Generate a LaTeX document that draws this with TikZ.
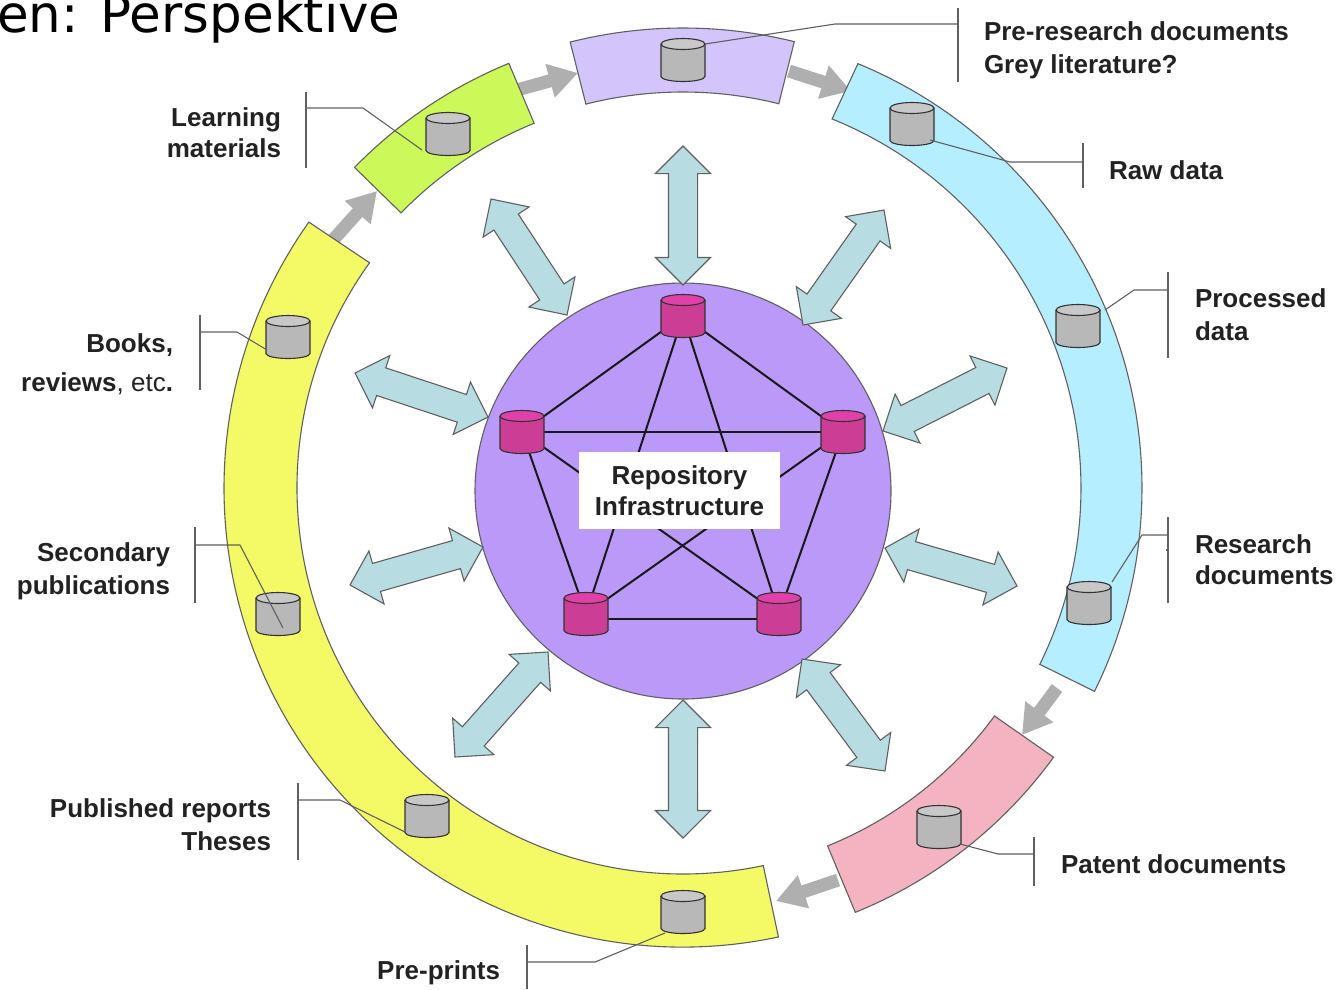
\documentclass[tikz,border=0pt]{standalone}
\usepackage{fontspec}
\setmainfont{Liberation Sans}
\newfontfamily\titlefont{DejaVu Sans}
\usetikzlibrary{shapes.geometric,shapes.arrows,arrows.meta,calc}
\definecolor{segpurple}{HTML}{D4C4FC}
\definecolor{segblue}{HTML}{B5EEFF}
\definecolor{segpink}{HTML}{F3B3C0}
\definecolor{segyellow}{HTML}{F3FA66}
\definecolor{seggreen}{HTML}{CCF85A}
\definecolor{hubpurple}{HTML}{BA99F9}
\definecolor{magbody}{HTML}{CC3D96}
\definecolor{magtop}{HTML}{E040A8}
\definecolor{greybody}{HTML}{B8B8B8}
\definecolor{greytop}{HTML}{C8C8C8}
\definecolor{arrowfill}{HTML}{B7DCE2}
\definecolor{edgegrey}{HTML}{606060}
\definecolor{flowgrey}{HTML}{AFAFAF}
\definecolor{labelink}{HTML}{222222}
\pgfdeclarelayer{bg}\pgfdeclarelayer{mid}
\pgfsetlayers{bg,mid,main}
\tikzset{
  seg/.style={draw=edgegrey,line width=1.1pt},
  cylline/.style={draw=black!80,line width=1.1pt},
  cylbox/.style={shape=rectangle,minimum width=44pt,minimum height=43pt,inner sep=0pt,outer sep=0pt},
  blockarrow/.style={shape=double arrow,draw=edgegrey,fill=arrowfill,line width=1.1pt,inner sep=0pt,outer sep=0pt,
    minimum width=54pt,text height=28pt,text depth=0pt,text width=0pt,double arrow head extend=13pt,double arrow tip angle=90},
  flow/.style={draw=flowgrey,line width=13pt,-{Triangle[length=29pt,width=33pt]}},
  net/.style={draw=black!90,line width=2pt},
  leaderline/.style={draw=edgegrey,line width=1.1pt},
  lbl/.style={font=\bfseries\fontsize{26}{33}\selectfont,text=labelink,inner sep=0pt,outer sep=0pt},
}
\newcommand{\blockarr}[5]{%
  \pgfmathsetmacro{\arrlen}{veclen(#4-#2,#5-#3)}%
  \pgfmathsetmacro{\arrang}{atan2(#3-#5,#4-#2)}%
  \node[blockarrow,minimum height=\arrlen pt,rotate=\arrang] (#1) at ({(#2+#4)/2},{-(#3+#5)/2}) {};}
\newcommand{\cylnode}[5]{% name, x, y, body, top
  \node[cylbox] (#1) at (#2,-#3) {};
  \fill[#4] ($(#1.north west)+(0,-5.5)$) -- ($(#1.south west)+(0,5)$) arc[start angle=180,end angle=360,x radius=22,y radius=5] -- ($(#1.north east)+(0,-5.5)$) arc[start angle=0,end angle=180,x radius=22,y radius=5.5] -- cycle;
  \filldraw[cylline,fill=#5] ($(#1.north)+(0,-5.5)$) ellipse[x radius=22,y radius=5.5];
  \draw[cylline] ($(#1.north west)+(0,-5.5)$) -- ($(#1.south west)+(0,5)$) arc[start angle=180,end angle=360,x radius=22,y radius=5] -- ($(#1.north east)+(0,-5.5)$);}
\newcommand{\leadr}[8]{% name, sx,sy, bx,by, barx, bartop, barbot
  \coordinate (#1s) at (#2,-#3);
  \coordinate (#1b) at (#4,-#5);
  \coordinate (#1e) at (#6,-#5);
  \coordinate (#1t) at (#6,-#7);
  \coordinate (#1u) at (#6,-#8);
  \draw[leaderline] (#1s) -- (#1b) -- (#1e);
  \draw[leaderline] (#1t) -- (#1u);}
\begin{document}
\begin{tikzpicture}[x=1pt,y=1pt]
\useasboundingbox (0,0) rectangle (1337,-989);
\begin{pgfonlayer}{bg}
  \fill[white] (0,0) rectangle (1337,-989);
  % flow arrows between the segments
  \coordinate (f1a) at (517,-90); \coordinate (f1b) at (578,-73);
  \coordinate (f2a) at (789,-71); \coordinate (f2b) at (851,-91);
  \coordinate (f3a) at (1057,-688); \coordinate (f3b) at (1022,-735);
  \coordinate (f4a) at (838,-880); \coordinate (f4b) at (776,-901);
  \coordinate (f5a) at (333,-240); \coordinate (f5b) at (377,-191);
  \draw[flow] (f1a) -- (f1b);
  \draw[flow] (f2a) -- (f2b);
  \draw[flow] (f3a) -- (f3b);
  \draw[flow] (f4a) -- (f4b);
  \draw[flow] (f5a) -- (f5b);
  % ring segments
  \path[seg,fill=segpurple] ([shift={(683,-488)}]104.2:460) arc[start angle=104.2,end angle=76,radius=460]
     -- ([shift={(683,-488)}]76:396) arc[start angle=76,end angle=104.2,radius=396] -- cycle;
  \path[seg,fill=segblue] ([shift={(683,-488)}]67.6:459) arc[start angle=67.6,end angle=-26.3,radius=459]
     -- ([shift={(683,-488)}]-26.3:398) arc[start angle=-26.3,end angle=68,radius=398] -- cycle;
  \path[seg,fill=segpink] ([shift={(683,-488)}]-36:458) arc[start angle=-36,end angle=-67.9,radius=458]
     -- ([shift={(683,-488)}]-68:386) arc[start angle=-68,end angle=-36.2,radius=386] -- cycle;
  \path[seg,fill=segyellow] ([shift={(683,-488)}]-78:459) arc[start angle=-78,end angle=-215.4,radius=459]
     -- ([shift={(683,-488)}]-215.7:386) arc[start angle=-215.7,end angle=-78,radius=386] -- cycle;
  \path[seg,fill=seggreen] ([shift={(683,-488)}]135.7:459) arc[start angle=135.7,end angle=112.3,radius=459]
     -- ([shift={(683,-488)}]112.2:394) arc[start angle=112.2,end angle=135.7,radius=394] -- cycle;
  \node[circle,draw=edgegrey,fill=hubpurple,line width=1.1pt,minimum size=416pt,inner sep=0pt,outer sep=0pt] (hub) at (683,-491) {};
\end{pgfonlayer}
% double block arrows
\blockarr{a1}{683}{146}{683}{285}
\blockarr{a2}{683}{700}{683}{838}
\blockarr{a3}{884}{210}{803}{325}
\blockarr{a4}{1007}{368}{883}{431}
\blockarr{a5}{885}{548}{1017}{586}
\blockarr{a6}{802}{659}{885}{771}
\blockarr{a7}{548}{652}{455}{757}
\blockarr{a8}{483}{547}{350}{585}
\blockarr{a9}{488}{417}{355}{373}
\blockarr{a10}{567}{315}{491}{199}
% repository network
\cylnode{rt}{683}{316}{magbody}{magtop}
\cylnode{rl}{522}{432}{magbody}{magtop}
\cylnode{rr}{843}{432}{magbody}{magtop}
\cylnode{rbl}{586}{614}{magbody}{magtop}
\cylnode{rbr}{779}{614}{magbody}{magtop}
\begin{pgfonlayer}{mid}
  \draw[net] (rt) -- (rl);
  \draw[net] (rt) -- (rr);
  \draw[net] (rt) -- (rbl);
  \draw[net] (rt) -- (rbr);
  \draw[net] (rl) -- (rr);
  \draw[net] (rl) -- (rbl);
  \draw[net] (rl) -- (rbr);
  \draw[net] (rr) -- (rbl);
  \draw[net] (rr) -- (rbr);
  \draw[net] ([yshift=-5pt]rbl.center) -- ([yshift=-5pt]rbr.center);
\end{pgfonlayer}
\node[fill=white,minimum width=201pt,minimum height=77pt,inner sep=0pt,align=center,
  font=\bfseries\fontsize{26}{31}\selectfont,text=labelink] (infra) at (679.5,-490.5) {Repository\\Infrastructure};
% document stores on the ring
\cylnode{cpre}{683}{60}{greybody}{greytop}
\cylnode{craw}{912}{124}{greybody}{greytop}
\cylnode{cproc}{1078}{326}{greybody}{greytop}
\cylnode{cres}{1089}{603}{greybody}{greytop}
\cylnode{cpat}{939}{827}{greybody}{greytop}
\cylnode{cprint}{683}{912}{greybody}{greytop}
\cylnode{cpub}{427}{816}{greybody}{greytop}
\cylnode{csec}{278}{614}{greybody}{greytop}
\cylnode{cbook}{288}{337}{greybody}{greytop}
\cylnode{clearn}{448}{134}{greybody}{greytop}
% leaders
\leadr{lpre}{705}{44}{835}{24}{958}{8}{82}
\leadr{lraw}{930}{140}{1010}{162}{1083}{143}{188}
\leadr{lproc}{1105}{310}{1134}{290}{1168}{272}{358}
\leadr{lres}{1112}{582}{1142}{535}{1168}{517}{603}
\leadr{lpat}{960}{844}{998}{854}{1034}{837}{886}
\leadr{lprint}{665}{933}{595}{962}{527}{945}{989}
\leadr{lpub}{405}{832}{340}{800}{298}{783}{860}
\leadr{lsec}{283}{628}{240}{545}{195}{527}{603}
\leadr{lbook}{267}{350}{237}{332}{200}{315}{390}
\leadr{llearn}{422}{150}{363}{108}{306}{92}{168}
\coordinate (tickl) at (1166,-550); \coordinate (tickr) at (1168,-550);
\draw[leaderline] (tickl) -- (tickr);
% labels
\node[lbl,anchor=west,align=left] (tpre) at (984,-50) {Pre-research documents\\Grey literature?};
\node[lbl,anchor=west] (traw) at (1109,-170) {Raw data};
\node[lbl,anchor=west,align=left] (tproc) at (1195,-314.5) {Processed\\data};
\node[lbl,anchor=west,align=left,font=\bfseries\fontsize{26}{31}\selectfont] (tres) at (1195,-559.5) {Research\\documents};
\node[lbl,anchor=west] (tpat) at (1061,-864) {Patent documents};
\node[lbl,anchor=east] (tprint) at (500,-972.5) {Pre-prints};
\node[lbl,anchor=east,align=right] (tpub) at (271,-824.5) {Published reports\\Theses};
\node[lbl,anchor=east,align=right] (tsec) at (170,-571.5) {Secondary\\publications};
\node[lbl,anchor=east,align=right,font=\bfseries\fontsize{26}{39}\selectfont] (tbook) at (173,-364) {Books,\\reviews{\mdseries, etc}.};
\node[lbl,anchor=east,align=right,font=\bfseries\fontsize{26}{31}\selectfont] (tlearn) at (281,-133) {Learning\\materials};
\node[anchor=base west,inner sep=0pt,text=black,font=\titlefont\fontsize{51.5}{52}\selectfont] (title) at (-3,-32) {en: Perspektive};
\end{tikzpicture}
\end{document}
